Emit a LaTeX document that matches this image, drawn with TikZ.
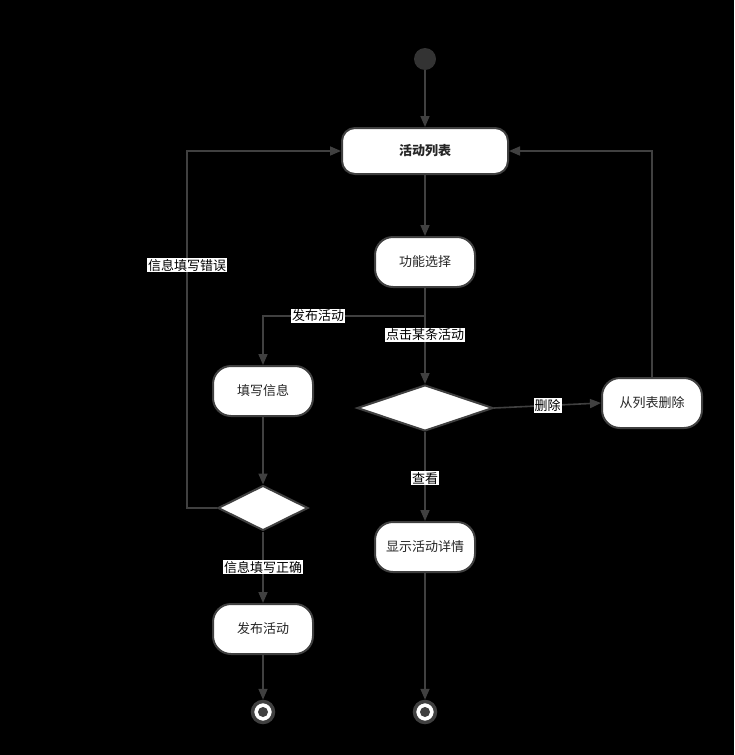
\documentclass[tikz,border=0pt]{standalone}
\usepackage{fontspec}
\setmainfont{Noto Sans CJK SC}
\usetikzlibrary{arrows.meta,shapes.geometric}
\definecolor{linegray}{HTML}{404040}
\begin{document}
\begin{tikzpicture}[x=1pt, y=-1pt,
	state/.style={draw=linegray, line width=2pt, fill=white, rounded corners=18pt, minimum width=100pt, minimum height=50pt, text=black!85, font=\fontsize{13}{15}\selectfont},
	choice/.style={draw=linegray, line width=2pt, fill=white, diamond, inner sep=0pt},
	flow/.style={draw=linegray, line width=1.6pt, -{Triangle[length=11pt,width=9pt]}},
	tag/.style={fill=white, text=black, inner sep=1pt, font=\fontsize{13}{15}\selectfont},
	endstate/.style={circle, draw=linegray, line width=3.5pt, fill=white, minimum size=21pt, inner sep=0pt}]

	% Background
	\fill[black] (0,0) rectangle (734,755);

	% States
	\node[circle, fill=black!80, minimum size=22pt, inner sep=0pt] (start) at (425,59) {};
	\node[state, minimum width=166pt, minimum height=46pt, rounded corners=13pt, font=\fontsize{13}{15}\selectfont\bfseries] (list) at (425,151) {活动列表};
	\node[state] (choose) at (425,262) {功能选择};
	\node[state] (fill) at (263,391) {填写信息};
	\node[choice, minimum width=136pt, minimum height=46pt] (pick) at (425,408) {};
	\node[state] (remove) at (652,403) {从列表删除};
	\node[state] (detail) at (425,547) {显示活动详情};
	\node[choice, minimum width=90pt, minimum height=45pt] (check) at (263,508) {};
	\node[state] (publish) at (263,629) {发布活动};
	\node[endstate] (endpub) at (263,712) {};
	\node[endstate] (enddetail) at (425,712) {};
	\fill[linegray] (endpub) circle (5pt);
	\fill[linegray] (enddetail) circle (5pt);

	% Main line
	\draw[flow] (start) -- (list);
	\draw[flow] (list) -- (choose);
	\draw[flow] (choose) -- node[tag, pos=0.49] {点击某条活动} (pick);
	\coordinate (split) at (425,316);
	\draw[flow] (split) -| node[tag, pos=0.33] {发布活动} (fill.north);

	% Delete branch
	\draw[flow] (pick.east) -- node[tag] {删除} (remove.west);
	\draw[flow] (remove.north) |- (list.east);

	% View branch
	\draw[flow] (pick.south) -- node[tag, pos=0.52] {查看} (detail.north);
	\draw[flow] (detail.south) -- (enddetail);

	% Publish branch
	\draw[flow] (fill.south) -- (check.north);
	\draw[flow] (check.west) -- ++(-30,0) |- node[tag, pos=0.34] {信息填写错误} (list.west);
	\draw[flow] (check.south) -- node[tag] {信息填写正确} (publish.north);
	\draw[flow] (publish.south) -- (endpub);
\end{tikzpicture}
\end{document}
